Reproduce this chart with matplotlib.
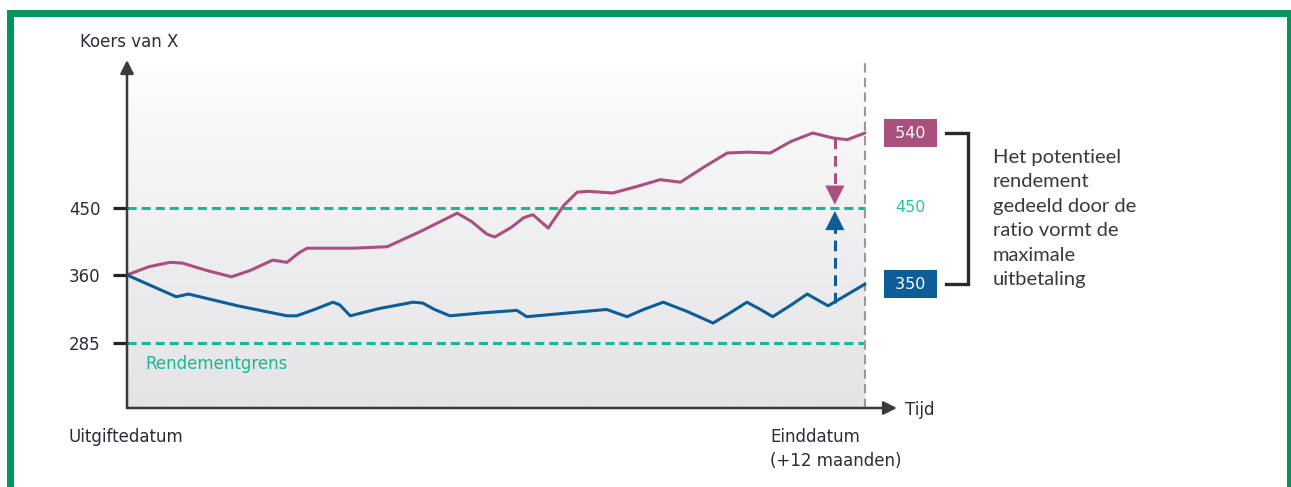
import numpy as np
import matplotlib
matplotlib.use("Agg")
import matplotlib.pyplot as plt
from matplotlib.patches import Rectangle

# --- data (months since issue, price of X) ---
roze_t = [0, 0.35, 0.7, 0.9, 1.3, 1.7, 2.0, 2.37, 2.6, 2.8, 2.93, 3.67, 4.23, 4.76,
          5.1, 5.37, 5.6, 5.85, 5.98, 6.25, 6.45, 6.6, 6.85, 7.1, 7.32, 7.5, 7.9,
          8.3, 8.67, 9.0, 9.4, 9.76, 10.1, 10.46, 10.8, 11.15, 11.48, 11.71, 12]
roze_v = [360, 371, 377, 376, 366, 358, 366, 380, 377, 390, 396, 396, 398, 418,
          432, 443, 432, 415, 411, 424, 437, 441, 423, 453, 469, 470, 468,
          476, 484, 481, 500, 516, 517, 516, 530, 540, 534, 532, 540]

blauw_t = [0, 0.4, 0.8, 1.0, 1.8, 2.6, 2.76, 3.05, 3.35, 3.46, 3.63, 4.1, 4.65,
           4.81, 5.0, 5.25, 5.74, 6.34, 6.5, 7.8, 8.13, 8.4, 8.72, 9.1, 9.53,
           9.8, 10.08, 10.3, 10.5, 10.8, 11.06, 11.4, 11.7, 12]
blauw_v = [360, 348, 336, 339, 326, 315, 315, 322, 330, 327, 315, 323, 330,
           329, 322, 315, 318, 321, 314, 322, 314, 322, 330, 320, 307,
           318, 330, 322, 314, 327, 339, 326, 338, 350]

niveaus = [285, 360, 450]
barriere = 450
rendementgrens = 285
eind_roze = 540
eind_blauw = 350
pijl_t = 11.51

# schematic (non-linear) value axis as in the original drawing
ankers_v = [100, 213, 285, 360, 450, 540, 628, 800]
ankers_p = [-102, 0, 65, 133, 200, 275, 348, 491]

def fwd(v):
    return np.interp(v, ankers_v, ankers_p)

def inv(p):
    return np.interp(p, ankers_p, ankers_v)

W, H = 1291, 487
ROZE = "#a9507f"
BLAUW = "#0d5d99"
TEAL = "#1db597"
TEKST = "#2b2b3a"

def px(x, y):
    return x / W, 1 - y / H

fig = plt.figure(figsize=(W / 100, H / 100), dpi=100)
ax = fig.add_axes([127 / W, (H - 408) / H, 773 / W, 353 / H])
ax.set_yscale("function", functions=(fwd, inv))
xmax = 773 / 61.5
ylim = (213, inv(353))
ax.set_xlim(0, xmax)
ax.set_ylim(*ylim)

# gradient background
grad = np.linspace(0, 1, 256) ** 0.8
grad = grad.reshape(-1, 1)
cmap = matplotlib.colors.LinearSegmentedColormap.from_list("g", ["#ffffff", "#e4e4e7"])
ax.imshow(grad, extent=[0, 12 / xmax, 0, 0.985], transform=ax.transAxes,
          aspect="auto", cmap=cmap, zorder=0)
ax.set_xlim(0, xmax)
ax.set_ylim(*ylim)

for s in ax.spines.values():
    s.set_visible(False)
ax.patch.set_alpha(0)

# horizontal dashed levels
ax.plot([0, 12], [barriere, barriere], color=TEAL, lw=2.2, ls=(0, (3, 1.6)), zorder=2)
ax.plot([0, 12], [rendementgrens, rendementgrens], color=TEAL, lw=2.2, ls=(0, (3, 1.6)), zorder=2)
ax.plot([12, 12], [213, inv(350)], color="#9a9a9a", lw=1.5, ls=(0, (4.5, 2.5)), zorder=2)

# price paths
ax.plot(roze_t, roze_v, color=ROZE, lw=2.2, solid_joinstyle="round",
        solid_capstyle="round", zorder=3)
ax.plot(blauw_t, blauw_v, color=BLAUW, lw=2.2, solid_joinstyle="round",
        solid_capstyle="round", zorder=3)

# dashed arrows towards the barrier
ax.plot([pijl_t, pijl_t], [534, 472], color=ROZE, lw=2.2, ls=(0, (3.5, 2.2)), zorder=3)
ax.annotate("", xy=(pijl_t, 454), xytext=(pijl_t, 472),
            arrowprops=dict(arrowstyle="-|>", color=ROZE, lw=0.1, mutation_scale=34,
                            shrinkA=0, shrinkB=0), zorder=3)
ax.plot([pijl_t, pijl_t], [329, 428], color=BLAUW, lw=2.2, ls=(0, (3.5, 2.2)), zorder=3)
ax.annotate("", xy=(pijl_t, 446), xytext=(pijl_t, 426),
            arrowprops=dict(arrowstyle="-|>", color=BLAUW, lw=0.1, mutation_scale=34,
                            shrinkA=0, shrinkB=0), zorder=3)

# axes with arrows
ax.annotate("", xy=(0, 628), xytext=(0, 213),
            arrowprops=dict(arrowstyle="-|>", color="#3a3a3a", lw=1.8, mutation_scale=20,
                            shrinkA=0, shrinkB=0), annotation_clip=False, zorder=4)
ax.annotate("", xy=(12.52, 213), xytext=(0, 213),
            arrowprops=dict(arrowstyle="-|>", color="#3a3a3a", lw=1.8, mutation_scale=20,
                            shrinkA=0, shrinkB=0), annotation_clip=False, zorder=4)

ax.set_xticks([])
ax.set_yticks(niveaus)
ax.set_yticklabels([str(n) for n in niveaus], fontsize=12, color=TEKST)
ax.tick_params(axis="y", length=10, width=2.3, color="#222222", pad=9)
ax.yaxis.set_minor_locator(matplotlib.ticker.NullLocator())

# end value boxes, barrier label and bracket
ax.text(12.74, eind_roze, " %d " % eind_roze, ha="center", va="center", fontsize=11.5,
        color="white", clip_on=False,
        bbox=dict(boxstyle="square,pad=0.38", fc=ROZE, ec="none"))
ax.text(12.74, eind_blauw, " %d " % eind_blauw, ha="center", va="center", fontsize=11.5,
        color="white", clip_on=False,
        bbox=dict(boxstyle="square,pad=0.38", fc=BLAUW, ec="none"))
ax.text(12.74, barriere, str(barriere), ha="center", va="center", fontsize=11.5,
        color="#2cc0a6", clip_on=False)
ax.plot([13.32, 13.67, 13.67, 13.32], [eind_roze, eind_roze, eind_blauw, eind_blauw],
        color="#2a2a2a", lw=2.4, clip_on=False, solid_joinstyle="miter")

# texts
fig.text(*px(80, 42), "Koers van X", fontsize=12, color=TEKST, va="center")
fig.text(*px(145, 364), "Rendementgrens", fontsize=12, color=TEAL, va="center")
fig.text(*px(68, 437), "Uitgiftedatum", fontsize=12, color=TEKST, va="center")
fig.text(*px(770, 437), "Einddatum", fontsize=12, color=TEKST, va="center")
fig.text(*px(770, 461), "(+12 maanden)", fontsize=12, color=TEKST, va="center")
fig.text(*px(905, 410), "Tijd", fontsize=12, color=TEKST, va="center")

uitleg = ["Het potentieel", "rendement", "gedeeld door de", "ratio vormt de",
          "maximale", "uitbetaling"]
for i, regel in enumerate(uitleg):
    fig.text(*px(993, 157 + i * 24.6), regel, family=["Lato", "DejaVu Sans"],
             fontsize=14.5, color="#3a3a3a", va="center")

# green frame
fig.patches.append(Rectangle(px(9.5, 600), (1290 - 9.5) / W, (600 - 12.5) / H,
                             transform=fig.transFigure, fill=False,
                             ec="#00955a", lw=5.0, zorder=10))

fig.savefig("out.png", dpi=100)
